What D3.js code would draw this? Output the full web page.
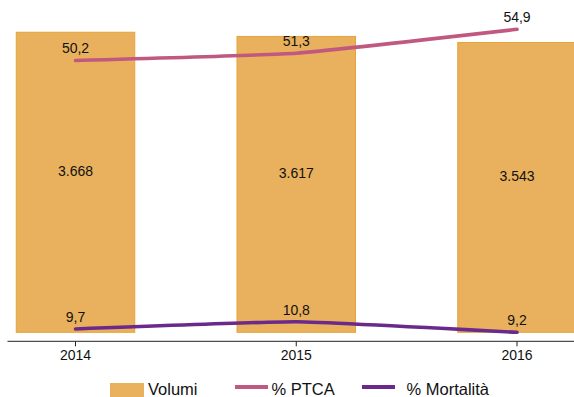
<!DOCTYPE html>
<html>
<head>
<meta charset="utf-8">
<script src="https://cdn.jsdelivr.net/npm/d3@7"></script>
<style>
  html, body { margin: 0; padding: 0; background: #fff; }
  svg { display: block; font-family: "Liberation Sans", Arial, sans-serif; }
</style>
</head>
<body>
<svg id="chart" width="574" height="397"></svg>
<script>
const years = ["2014", "2015", "2016"];
const volumi = [3668, 3617, 3543];
const volumiLabels = ["3.668", "3.617", "3.543"];
const ptca = [50.2, 51.3, 54.9];
const ptcaLabels = ["50,2", "51,3", "54,9"];
const mortalita = [9.7, 10.8, 9.2];
const mortalitaLabels = ["9,7", "10,8", "9,2"];
const legendNames = ["Volumi", "% PTCA", "% Mortalità"];

const colBar = "#E9B15D", colBarStroke = "#E5A33A";
const colPtca = "#C0587F", colMort = "#6B2A8B";

const svg = d3.select("#chart");

const x = d3.scalePoint().domain(years).range([75.5, 517]);
const barW = 118.5;
const yBar = d3.scaleLinear().domain([0, 4000]).range([332.3, 5.1]);
const yLine = d3.scaleLinear().domain([10, 55]).range([327.0, 28.65]);

// bars
svg.append("g").selectAll("rect").data(years).join("rect")
  .attr("x", d => x(d) - barW / 2)
  .attr("y", (d, i) => yBar(volumi[i]))
  .attr("width", barW)
  .attr("height", (d, i) => yBar(0) - yBar(volumi[i]))
  .attr("fill", colBar)
  .attr("stroke", colBarStroke)
  .attr("stroke-width", 1);

// bar labels
svg.append("g").selectAll("text").data(years).join("text")
  .attr("x", d => x(d))
  .attr("y", (d, i) => (yBar(volumi[i]) + yBar(0)) / 2 - 11 + 5)
  .attr("text-anchor", "middle")
  .attr("font-size", 14)
  .attr("fill", "#111")
  .text((d, i) => volumiLabels[i]);

// axis
const axisY = 341.3;
svg.append("line").attr("x1", 7.5).attr("x2", 574).attr("y1", axisY).attr("y2", axisY)
  .attr("stroke", "#222").attr("stroke-width", 1);
svg.append("g").selectAll("line").data(years).join("line")
  .attr("x1", d => x(d)).attr("x2", d => x(d))
  .attr("y1", axisY).attr("y2", axisY + 5)
  .attr("stroke", "#222").attr("stroke-width", 1);
svg.append("g").selectAll("text").data(years).join("text")
  .attr("x", d => x(d)).attr("y", 359.5)
  .attr("text-anchor", "middle").attr("font-size", 14).attr("fill", "#111")
  .text(d => d);

// lines
const line = d3.line().x(d => x(d.year)).y(d => yLine(d.v)).curve(d3.curveCardinal.tension(0.65));
function drawSeries(vals, labels, color) {
  const data = years.map((y, i) => ({ year: y, v: vals[i], label: labels[i] }));
  svg.append("path").datum(data).attr("d", line)
    .attr("fill", "none").attr("stroke", color).attr("stroke-width", 3.6)
    .attr("stroke-linecap", "round");
  svg.append("g").selectAll("text").data(data).join("text")
    .attr("x", d => x(d.year)).attr("y", d => yLine(d.v) - 7)
    .attr("text-anchor", "middle").attr("font-size", 14).attr("fill", "#111")
    .text(d => d.label);
}
drawSeries(ptca, ptcaLabels, colPtca);
drawSeries(mortalita, mortalitaLabels, colMort);

// legend
const lg = svg.append("g").attr("font-size", 16.5).attr("fill", "#111");
lg.append("rect").attr("x", 110).attr("y", 383).attr("width", 34).attr("height", 14).attr("fill", colBar);
lg.append("text").attr("x", 148).attr("y", 394.7).text(legendNames[0]);
lg.append("line").attr("x1", 235).attr("x2", 268).attr("y1", 387).attr("y2", 387)
  .attr("stroke", colPtca).attr("stroke-width", 4);
lg.append("text").attr("x", 271.5).attr("y", 394.7).text(legendNames[1]);
lg.append("line").attr("x1", 362).attr("x2", 395).attr("y1", 387).attr("y2", 387)
  .attr("stroke", colMort).attr("stroke-width", 4);
lg.append("text").attr("x", 406.5).attr("y", 394.7).text(legendNames[2]);
</script>
</body>
</html>
